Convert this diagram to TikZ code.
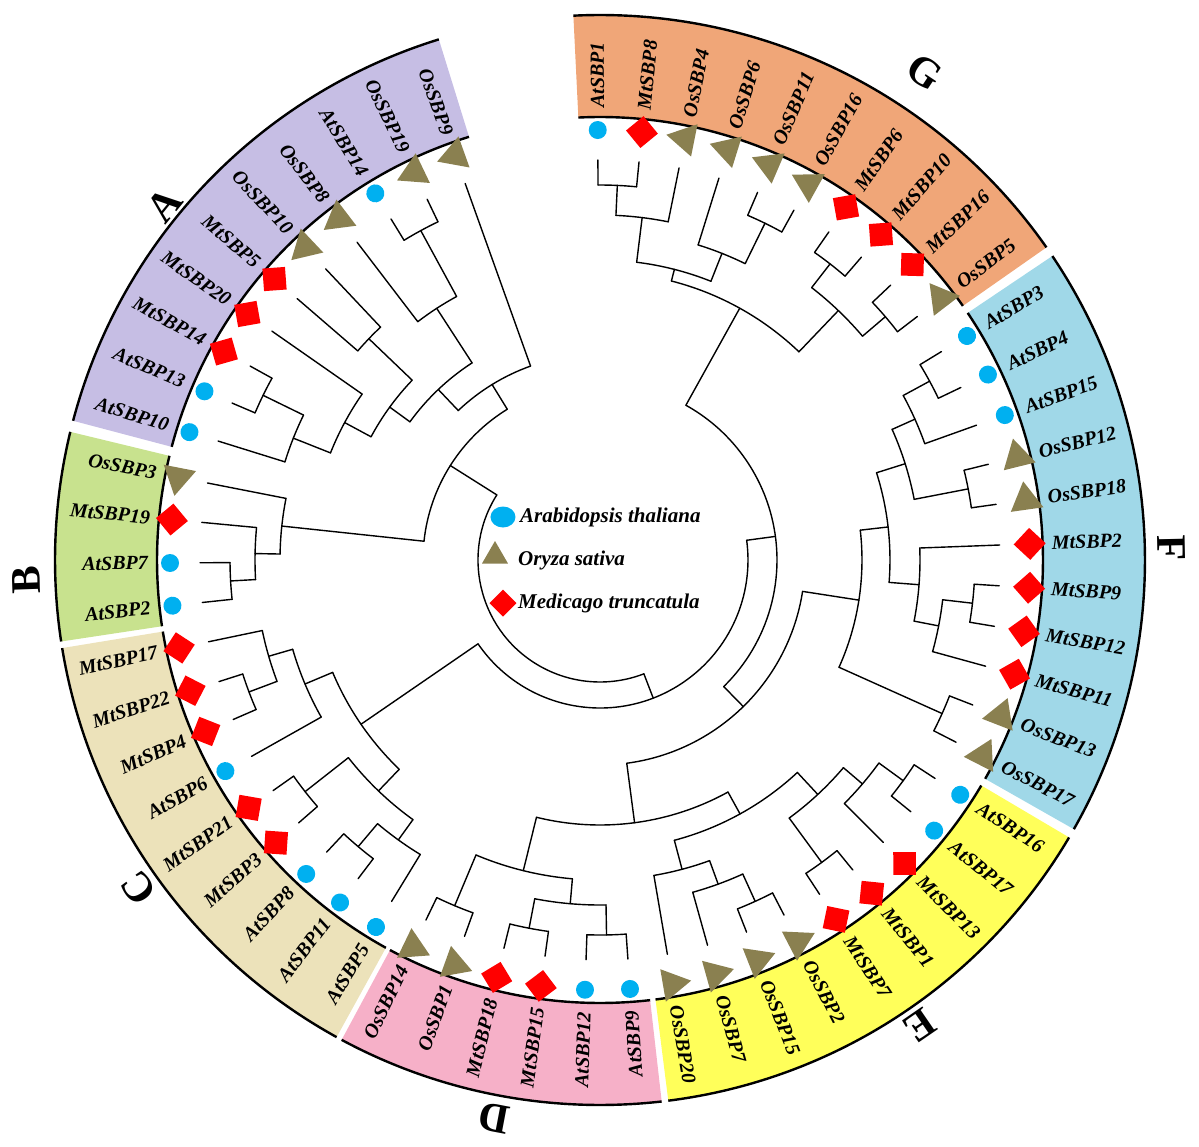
\documentclass[tikz,border=0pt]{standalone}
\usepackage{fontspec}
\setmainfont{Liberation Serif}
\usetikzlibrary{shapes.geometric}
\definecolor{atblue}{RGB}{0,176,240}
\definecolor{osolive}{RGB}{138,128,80}
\definecolor{mtred}{RGB}{255,0,0}
\definecolor{ringA}{RGB}{198,190,228}
\definecolor{ringB}{RGB}{200,226,142}
\definecolor{ringC}{RGB}{236,226,186}
\definecolor{ringD}{RGB}{246,176,200}
\definecolor{ringE}{RGB}{255,255,90}
\definecolor{ringF}{RGB}{160,216,232}
\definecolor{ringG}{RGB}{240,166,120}
\tikzset{
  branch/.style={line width=1.4pt, line cap=round, line join=round},
  mkAt/.style={circle, fill=atblue, inner sep=0pt, minimum size=18pt},
  mkOs/.style={regular polygon, regular polygon sides=3, fill=osolive, inner sep=0pt, minimum size=38pt},
  mkMt/.style={regular polygon, regular polygon sides=4, shape border rotate=45, fill=mtred, inner sep=0pt, minimum size=32pt},
  lbl/.style={inner sep=0pt, font=\fontsize{20}{20}\selectfont\bfseries\itshape},
  grp/.style={inner sep=0pt, font=\fontsize{42}{42}\selectfont\bfseries},
  legtxt/.style={anchor=west, inner sep=0pt, font=\fontsize{21}{21}\selectfont\bfseries\itshape}
}
% r, first angle, last angle
\newcommand{\clade}[3]{\draw[branch] (#2:#1pt) arc[start angle=#2, end angle=#3, radius=#1pt];}
% angle, inner r, outer r
\newcommand{\twig}[3]{\draw[branch] (#1:#2pt) -- (#1:#3pt);}
% node: r, a1, r1, a2, r2
\newcommand{\knot}[5]{\clade{#1}{#2}{#4}\twig{#2}{#1}{#3}\twig{#4}{#1}{#5}}
% coloured band: a1, a2, colour
\newcommand{\band}[3]{%
  \fill[#3] (#1:443pt) arc[start angle=#1, end angle=#2, radius=443pt] -- (#2:545pt) arc[start angle=#2, end angle=#1, radius=545pt] -- cycle;
  \draw[line width=2.4pt] (#1:443pt) arc[start angle=#1, end angle=#2, radius=443pt];
  \draw[line width=2.4pt] (#1:545pt) arc[start angle=#1, end angle=#2, radius=545pt];}
\begin{document}
\begin{tikzpicture}
\useasboundingbox (-600pt,-586pt) rectangle (599pt,560pt);

% bands
\band{107.2}{165.2}{ringA}
\band{166.4}{188.6}{ringB}
\band{189.3}{241.1}{ringC}
\band{241.7}{276.5}{ringD}
\band{277.2}{329.4}{ringE}
\band{330.4}{393.9}{ringF}
\band{35}{92.8}{ringG}

% group letters
\node[grp, rotate=50.8] (gA) at (140.8:562pt) {A};
\node[grp, rotate=92] (gB) at (182:574pt) {B};
\node[grp, rotate=125.4] (gC) at (215.4:566pt) {C};
\node[grp, rotate=169.3] (gD) at (259.3:568pt) {D};
\node[grp, rotate=214.5] (gE) at (304.5:565pt) {E};
\node[grp, rotate=-88.8] (gF) at (1.2:572pt) {F};
\node[grp, rotate=-33.7] (gG) at (56.3:586pt) {G};

% clade A
\knot{375}{115.6}{400}{121.5}{400}
\knot{300}{118.55}{375}{127.4}{400}
\knot{320}{133.3}{400}{139.2}{400}
\knot{375}{151.0}{400}{156.9}{400}
\knot{330}{153.95}{375}{162.7}{400}
\knot{290}{145.1}{400}{158.33}{330}
\knot{260}{136.25}{320}{151.71}{290}
\knot{235}{122.98}{300}{143.98}{260}
\knot{206}{109.7}{400}{133.48}{235}
% clade B
\knot{370}{180.4}{400}{186.1}{400}
\knot{345}{174.6}{400}{183.25}{370}
\knot{320}{168.9}{400}{178.93}{345}
\knot{177}{121.59}{206}{173.91}{320}
% clade C
\knot{375}{197.7}{400}{203.5}{400}
\knot{345}{191.8}{400}{200.6}{375}
\knot{320}{196.2}{345}{209.4}{400}
\knot{375}{215.2}{400}{221.1}{400}
\knot{375}{226.9}{400}{232.8}{400}
\knot{345}{229.85}{375}{238.6}{400}
\knot{320}{218.15}{375}{234.23}{345}
\knot{290}{202.8}{320}{226.19}{320}
% clade D
\knot{375}{244.2}{400}{250.2}{400}
\knot{375}{256.1}{400}{262.1}{400}
\knot{375}{268.0}{400}{274.0}{400}
\knot{345}{259.1}{375}{271.0}{375}
\knot{320}{247.2}{375}{265.05}{345}
% clade E
\knot{375}{291.5}{400}{297.4}{400}
\knot{345}{285.6}{400}{294.45}{375}
\knot{320}{279.7}{400}{290.03}{345}
\knot{375}{303.3}{400}{309.2}{400}
\knot{375}{321.0}{400}{326.9}{400}
\knot{345}{315.1}{400}{323.95}{375}
\knot{320}{306.25}{375}{319.53}{345}
\knot{290}{284.86}{320}{312.89}{320}
\knot{265}{256.13}{320}{298.88}{290}
% clade F
\knot{375}{332.9}{400}{338.75}{400}
\knot{375}{350.45}{400}{356.3}{400}
\knot{345}{344.6}{400}{353.38}{375}
\knot{320}{348.99}{345}{362.15}{400}
\knot{375}{368.0}{400}{373.85}{400}
\knot{375}{385.55}{400}{391.4}{400}
\knot{345}{379.7}{400}{388.48}{375}
\knot{320}{370.93}{375}{384.09}{345}
\knot{290}{355.57}{320}{377.51}{320}
\knot{262}{335.83}{375}{366.54}{290}
% clade G
\knot{375}{84.4}{400}{90.3}{400}
\knot{345}{78.6}{400}{87.35}{375}
\knot{375}{61.0}{400}{66.8}{400}
\knot{330}{63.9}{375}{72.7}{400}
\knot{300}{68.3}{330}{82.98}{345}
\knot{375}{49.2}{400}{55.1}{400}
\knot{375}{37.5}{400}{43.4}{400}
\knot{345}{40.45}{375}{52.15}{375}
\knot{288}{46.3}{345}{75.64}{300}
% backbone
\knot{205}{277.5}{265}{351.19}{262}
\knot{177}{314.35}{205}{420.97}{288}
\knot{148}{214.5}{290}{367.66}{177}
\knot{122}{147.75}{177}{291.08}{148}

% leaves reading inward
\foreach \a/\n/\t in {109.7/OsSBP9/Os, 115.6/OsSBP19/Os, 121.5/AtSBP14/At, 127.4/OsSBP8/Os,
  133.3/OsSBP10/Os, 139.2/MtSBP5/Mt, 145.1/MtSBP20/Mt, 151.0/MtSBP14/Mt, 156.9/AtSBP13/At,
  162.7/AtSBP10/At, 168.9/OsSBP3/Os, 174.6/MtSBP19/Mt, 180.4/AtSBP7/At, 186.1/AtSBP2/At,
  191.8/MtSBP17/Mt, 197.7/MtSBP22/Mt, 203.5/MtSBP4/Mt, 209.4/AtSBP6/At, 215.2/MtSBP21/Mt,
  221.1/MtSBP3/Mt, 226.9/AtSBP8/At, 232.8/AtSBP11/At, 238.6/AtSBP5/At, 244.2/OsSBP14/Os,
  250.2/OsSBP1/Os, 256.1/MtSBP18/Mt, 262.1/MtSBP15/Mt, 268.0/AtSBP12/At, 274.0/AtSBP9/At}{
  \node[mk\t, rotate=\a] (m-\n) at (\a:430pt) {};
  \node[lbl, anchor=east, rotate=\a+180] (l-\n) at (\a:452pt) {\n};
}
% leaves reading outward
\foreach \a/\n/\t in {279.7/OsSBP20/Os, 285.6/OsSBP7/Os, 291.5/OsSBP15/Os, 297.4/OsSBP2/Os,
  303.3/MtSBP7/Mt, 309.2/MtSBP1/Mt, 315.1/MtSBP13/Mt, 321.0/AtSBP17/At, 326.9/AtSBP16/At,
  332.9/OsSBP17/Os, 338.75/OsSBP13/Os, 344.6/MtSBP11/Mt, 350.45/MtSBP12/Mt, 356.3/MtSBP9/Mt,
  362.15/MtSBP2/Mt, 368.0/OsSBP18/Os, 373.85/OsSBP12/Os, 379.7/AtSBP15/At, 385.55/AtSBP4/At,
  391.4/AtSBP3/At, 37.5/OsSBP5/Os, 43.4/MtSBP16/Mt, 49.2/MtSBP10/Mt, 55.1/MtSBP6/Mt,
  61.0/OsSBP16/Os, 66.8/OsSBP11/Os, 72.7/OsSBP6/Os, 78.6/OsSBP4/Os, 84.4/MtSBP8/Mt, 90.3/AtSBP1/At}{
  \node[mk\t, rotate=\a] (m-\n) at (\a:430pt) {};
  \node[lbl, anchor=west, rotate=\a] (l-\n) at (\a:452pt) {\n};
}

% legend
\node[ellipse, fill=atblue, inner sep=0pt, minimum width=25pt, minimum height=21pt] (kAt) at (-97pt,43pt) {};
\node[legtxt] (tAt) at (-80pt,43pt) {Arabidopsis thaliana};
\node[mkOs, minimum size=30pt] (kOs) at (-105pt,4pt) {};
\node[legtxt] (tOs) at (-82pt,0pt) {Oryza sativa};
\node[mkMt, minimum size=27pt] (kMt) at (-97pt,-43pt) {};
\node[legtxt] (tMt) at (-82pt,-43pt) {Medicago truncatula};
\end{tikzpicture}
\end{document}
